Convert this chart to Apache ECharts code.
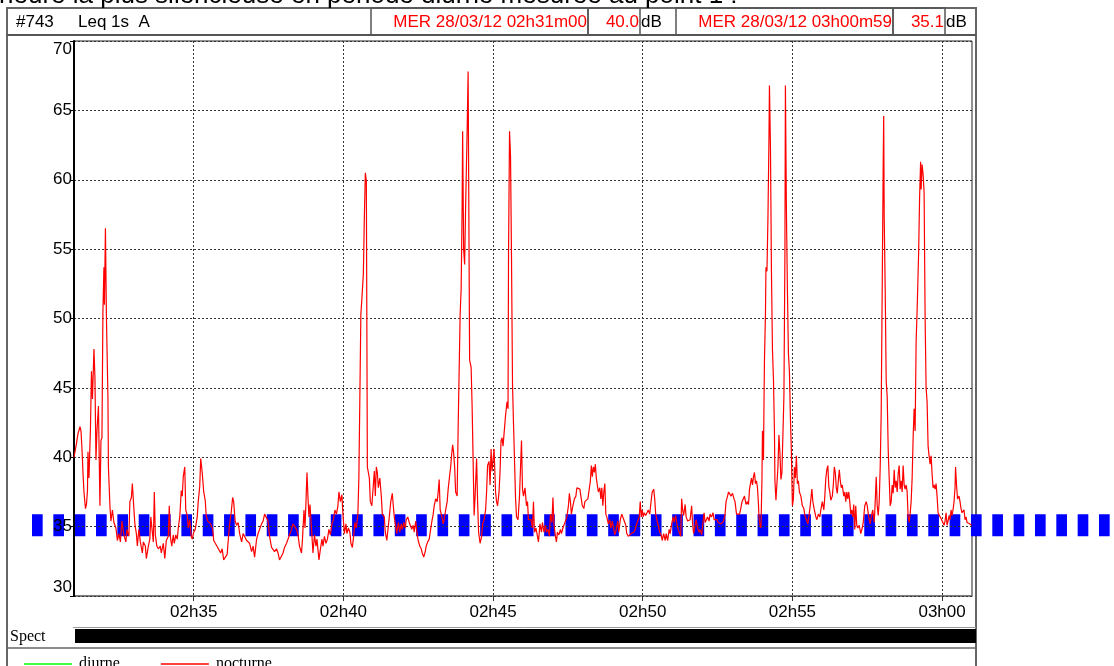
<!DOCTYPE html>
<html>
<head>
<meta charset="utf-8">
<script src="https://cdn.jsdelivr.net/npm/echarts@6/dist/echarts.min.js"></script>
<style>
  html, body { margin: 0; padding: 0; background: #fff; }
  #chart { width: 1114px; height: 666px; }
</style>
</head>
<body>
<div id="chart"></div>
<script>
// Leq 1s (dB A), seconds counted from 02h31m00
const trace0231 = [[0,40.0],[5,41.0],[8,41.7],[12,42.2],[14,41.9],[16,40.6],[18,38.9],[20,37.5],[23,36.3],[25,36.6],[27,37.6],[28,40.4],[30,38.5],[33,42.1],[35,46.2],[37,44.2],[40,47.8],[42,45.7],[44,39.8],[46,41.9],[49,43.7],[52,36.5],[54,41.2],[56,41.4],[58,50.6],[60,53.7],[61,51.0],[63,56.5],[65,50.1],[68,44.4],[69,39.3],[72,36.5],[74,35.4],[77,36.2],[80,35.3],[84,34.9],[87,34.0],[90,34.5],[93,33.9],[96,35.4],[100,34.4],[104,33.9],[106,34.8],[110,34.3],[112,36.8],[115,37.1],[117,38.1],[120,36.3],[122,35.2],[125,34.5],[127,33.6],[130,34.8],[133,33.9],[137,33.1],[139,33.9],[143,33.6],[145,32.7],[149,33.6],[152,34.1],[154,35.7],[157,34.6],[159,33.9],[161,37.5],[163,34.4],[166,33.6],[169,33.4],[173,33.6],[175,33.1],[179,33.8],[182,32.7],[185,34.0],[189,34.3],[191,36.5],[193,34.3],[196,33.6],[199,34.4],[201,33.8],[204,34.4],[207,34.1],[209,34.9],[212,35.7],[215,37.6],[217,37.2],[219,38.6],[222,39.3],[224,36.2],[227,35.8],[229,34.9],[232,35.5],[235,34.3],[237,34.1],[240,34.6],[243,34.8],[247,35.7],[249,36.8],[252,37.9],[254,39.9],[257,38.9],[260,37.5],[263,36.9],[265,35.8],[268,35.4],[271,35.5],[274,35.2],[278,34.8],[280,34.0],[284,34.0],[288,33.5],[291,33.6],[294,33.1],[297,33.4],[300,32.6],[304,32.5],[307,33.0],[310,34.4],[312,35.2],[315,36.0],[318,37.1],[320,36.8],[323,35.4],[326,35.1],[329,35.3],[332,34.5],[336,33.9],[339,34.5],[342,34.5],[346,34.0],[349,33.9],[352,33.8],[356,33.2],[359,33.6],[362,32.8],[366,34.1],[369,34.5],[372,34.6],[376,35.2],[379,35.4],[382,35.9],[386,35.9],[389,35.4],[392,34.3],[396,33.5],[399,33.6],[402,33.2],[406,33.4],[409,33.1],[412,32.6],[416,32.7],[419,33.1],[422,33.5],[426,33.8],[429,34.1],[432,34.4],[436,34.8],[439,35.2],[442,35.1],[446,34.8],[449,34.4],[452,33.6]];
const trace0238 = [[456,33.1],[458,34.1],[461,36.2],[463,34.9],[465,36.8],[467,38.9],[469,37.1],[471,35.7],[473,36.6],[476,34.9],[479,33.1],[482,34.4],[485,33.6],[487,34.1],[491,32.6],[494,33.4],[497,34.1],[499,33.6],[502,34.3],[505,33.8],[508,34.1],[511,34.8],[514,34.4],[517,35.2],[520,35.5],[523,36.2],[526,35.9],[529,36.5],[531,37.5],[534,36.8],[537,37.3],[539,35.9],[542,34.5],[545,35.2],[547,34.5],[550,34.9],[553,34.6],[555,33.8],[558,33.5],[561,34.5],[563,35.3],[566,34.9],[569,35.9],[571,38.5],[573,44.4],[575,50.3],[577,51.4],[580,53.2],[582,57.3],[584,60.5],[586,59.9],[587,49.6],[588,39.3],[590,38.9],[592,38.5],[594,36.8],[597,36.5],[600,38.0],[602,39.0],[604,37.2],[606,39.3],[608,38.9],[610,37.8],[613,38.5],[616,37.2],[618,35.9],[622,35.7],[624,34.6],[627,34.0],[630,34.1],[632,35.7],[635,36.8],[638,37.4],[640,36.5],[642,35.7],[644,35.2],[647,34.5],[650,35.3],[653,34.6],[656,35.2],[658,34.8],[661,35.3],[664,34.9],[666,35.5],[669,35.7],[672,35.3],[674,35.2],[677,34.8],[680,35.1],[682,34.6],[685,35.4],[688,34.4],[690,34.0],[693,33.6],[696,33.4],[698,33.1],[701,32.8],[704,33.2],[706,33.6],[709,33.9],[712,34.1],[714,34.6],[717,35.3],[720,35.9],[722,36.5],[725,37.0],[728,36.8],[730,37.5],[732,38.4],[734,36.2],[737,35.8],[740,35.2],[742,35.5],[745,36.2],[748,36.8],[750,37.7],[753,38.7],[755,39.3],[757,40.2],[759,40.9],[761,40.3],[763,39.3],[765,37.5],[768,37.2],[770,42.1],[772,46.2],[774,50.3],[776,52.1],[778,58.1],[779,63.5],[781,55.0],[783,53.9],[785,58.1],[788,63.5],[790,67.8],[792,67.7],[793,47.0],[796,46.5],[798,43.7],[800,39.8],[802,35.8],[804,37.2],[807,39.9],[809,36.8],[811,34.6],[814,33.8],[817,34.3],[819,35.2],[822,35.5],[825,36.2],[827,37.5],[829,39.4],[832,39.7],[834,38.0],[836,40.6],[838,39.0],[840,39.8],[842,40.6],[845,37.5],[847,36.8],[849,36.5],[852,37.5],[854,39.0],[856,41.2],[858,41.4],[860,40.8],[863,40.9],[865,43.0],[868,44.0],[870,43.5],[871,54.7],[873,63.5],[875,61.7],[877,54.2],[879,45.2],[881,42.4],[883,39.8],[885,37.1],[887,35.7],[890,35.5],[893,37.2]];
const trace0246 = [[897,41.2],[899,37.7],[901,37.2],[904,37.8],[907,36.5],[909,36.8],[911,35.5],[913,35.4],[916,35.5],[919,34.9],[921,36.8],[923,34.6],[926,34.9],[929,34.3],[931,33.9],[934,35.2],[937,34.6],[939,35.3],[942,34.6],[945,35.1],[947,34.6],[950,34.8],[953,34.3],[955,35.9],[958,35.3],[960,37.1],[962,35.2],[965,34.3],[967,33.9],[969,34.6],[972,34.4],[975,34.8],[977,34.5],[980,34.9],[983,35.2],[985,35.1],[988,35.7],[991,36.5],[993,37.4],[995,36.8],[997,35.9],[1000,36.5],[1003,37.0],[1006,37.2],[1008,37.8],[1011,37.9],[1014,37.7],[1016,37.2],[1019,36.5],[1022,36.3],[1024,36.8],[1027,36.9],[1030,37.0],[1032,37.5],[1035,38.3],[1037,39.4],[1039,38.6],[1041,39.3],[1043,38.9],[1045,39.5],[1047,38.5],[1049,38.0],[1051,37.5],[1054,37.8],[1056,37.0],[1058,37.8],[1060,36.5],[1062,37.5],[1064,38.1],[1066,35.9],[1068,35.7],[1071,35.2],[1074,35.5],[1076,34.9],[1079,35.4],[1082,34.8],[1084,34.4],[1087,34.8],[1090,35.4],[1092,34.6],[1095,35.5],[1098,35.9],[1100,36.0],[1103,35.4],[1106,35.1],[1108,34.5],[1111,34.3],[1114,34.4],[1117,34.5],[1119,34.4],[1122,34.6],[1125,34.8],[1127,35.1],[1130,35.4],[1133,35.7],[1135,36.8],[1137,35.7],[1139,36.2],[1141,35.7],[1143,36.0],[1146,35.8],[1149,35.7],[1151,36.2],[1154,35.9],[1157,36.9],[1159,37.5],[1162,37.7],[1164,37.0],[1166,35.9],[1169,35.4],[1171,35.1],[1174,34.6],[1177,34.4],[1179,34.0],[1182,34.5],[1185,34.0],[1187,34.5],[1190,34.0],[1193,34.8],[1195,34.5],[1198,35.2],[1201,35.7],[1203,35.3],[1206,35.8],[1209,35.1],[1211,34.8],[1214,34.5],[1216,34.3],[1218,37.0],[1220,36.2],[1222,35.8],[1225,36.6],[1227,35.7],[1230,35.4],[1233,35.5],[1235,35.5],[1238,36.5],[1240,35.2],[1242,34.5],[1245,35.1],[1247,35.5],[1250,34.9],[1253,34.6],[1255,34.8],[1258,34.4],[1261,35.4],[1263,36.0],[1265,35.3],[1267,35.2],[1270,35.7],[1273,35.4],[1275,35.9],[1278,35.7],[1281,36.0],[1283,35.5],[1286,35.4],[1289,35.5],[1291,35.3],[1294,35.4],[1297,35.2],[1299,35.3],[1302,35.4],[1305,35.9],[1307,36.8],[1310,37.2],[1312,37.5],[1315,37.4],[1317,37.2],[1320,37.4],[1323,37.0],[1325,36.8],[1328,35.9],[1331,35.8],[1334,35.9],[1336,36.2],[1339,36.8],[1342,36.9],[1344,37.2]];
const trace0253 = [[1347,36.6],[1350,36.8],[1352,36.6],[1354,37.7],[1356,37.8],[1358,38.5],[1360,38.0],[1362,38.6],[1364,38.9],[1366,38.1],[1368,38.3],[1370,37.8],[1372,36.6],[1373,35.7],[1375,35.1],[1377,34.9],[1379,38.5],[1380,41.9],[1382,39.8],[1383,43.7],[1384,47.0],[1386,50.3],[1387,53.7],[1389,53.4],[1391,57.3],[1393,62.9],[1394,66.8],[1396,62.4],[1398,53.4],[1400,47.8],[1402,45.7],[1404,41.9],[1405,38.3],[1407,36.9],[1409,36.8],[1411,39.3],[1413,41.6],[1415,40.3],[1417,38.4],[1419,38.9],[1421,39.0],[1423,44.4],[1425,54.7],[1426,66.8],[1428,57.8],[1430,52.1],[1432,47.5],[1434,46.2],[1436,42.9],[1438,40.3],[1440,36.5],[1442,37.0],[1444,39.3],[1446,38.5],[1448,40.1],[1450,38.1],[1452,38.3],[1454,37.5],[1457,37.2],[1460,36.5],[1463,36.3],[1465,35.8],[1468,35.9],[1471,35.2],[1473,35.7],[1476,36.6],[1479,37.7],[1481,36.8],[1484,36.2],[1487,35.7],[1489,35.5],[1492,35.9],[1495,35.7],[1497,36.2],[1500,36.8],[1503,36.2],[1505,37.2],[1507,38.5],[1509,39.1],[1511,39.4],[1513,37.9],[1515,37.5],[1517,36.9],[1520,37.2],[1522,38.0],[1524,39.3],[1526,38.9],[1528,37.8],[1530,37.4],[1532,38.3],[1534,39.1],[1536,38.3],[1538,37.8],[1540,38.0],[1543,37.2],[1545,37.5],[1547,36.8],[1549,37.5],[1551,37.0],[1553,37.5],[1555,36.8],[1557,35.9],[1559,36.2],[1561,35.7],[1563,36.6],[1565,34.8],[1567,36.5],[1569,35.1],[1571,34.9],[1574,35.1],[1577,34.5],[1580,34.9],[1582,35.3],[1585,36.5],[1588,36.8],[1590,36.5],[1593,35.7],[1596,35.2],[1598,35.7],[1601,36.2],[1604,35.3],[1606,36.8],[1608,38.6],[1610,36.5],[1612,35.8],[1614,36.8],[1616,39.3],[1618,43.2],[1620,52.1],[1622,61.1],[1623,64.6],[1624,57.3],[1626,52.1],[1628,45.5],[1630,44.4],[1632,40.6],[1634,38.5],[1636,36.5],[1638,36.8],[1640,38.0],[1642,37.4],[1644,39.1],[1646,37.8],[1648,38.3],[1650,37.5],[1652,38.8],[1654,39.4],[1656,37.7],[1658,38.3],[1660,37.5],[1662,39.4],[1664,38.0],[1666,37.7],[1668,38.0],[1670,37.5],[1672,35.7],[1674,35.3],[1676,35.9],[1678,36.8],[1680,38.5],[1682,41.4],[1684,43.5],[1686,41.9],[1688,48.3],[1690,50.6],[1693,54.7],[1695,58.8],[1697,61.3],[1698,59.3],[1700,61.1],[1702,60.4],[1704,59.1],[1706,50.1],[1708,45.0],[1710,44.0],[1712,40.8],[1714,40.1],[1716,39.5],[1718,40.1],[1720,38.8],[1722,37.8],[1724,38.0],[1726,37.7],[1728,38.1],[1730,37.2],[1732,36.0],[1734,35.9],[1736,35.9],[1739,35.5],[1742,35.4],[1744,35.1],[1746,35.4],[1748,36.0],[1750,35.1],[1752,35.4],[1754,35.8],[1756,35.5],[1758,36.2],[1760,35.8],[1762,36.2],[1764,36.8],[1766,37.8],[1767,39.3],[1769,38.0],[1771,37.0],[1774,37.2],[1776,36.8],[1778,36.3],[1780,36.0],[1782,35.9],[1784,36.2],[1786,35.5],[1788,35.7],[1790,35.3],[1793,35.2],[1795,35.2],[1797,35.1],[1799,35.1]];

const tickSecs = [240, 540, 840, 1140, 1440, 1740];
const refLevel = 35.1;          // trait bleu
const spectSpans = [[0, 1800]];  // bande "Spect"
const legendNames = ['diurne', 'nocturne'];

const nocturne = trace0231.concat(trace0238, trace0246, trace0253);

function hhmm(sec) {
  const m = 151 + Math.round(sec / 60);
  const h = Math.floor(m / 60), mm = m % 60;
  return (h < 10 ? '0' : '') + h + 'h' + (mm < 10 ? '0' : '') + mm;
}

const SANS = 'Liberation Sans, Arial, sans-serif';
const SERIF = 'Liberation Serif, Times New Roman, serif';

var myChart = echarts.init(document.getElementById('chart'), null, { renderer: 'canvas' });

var option = {
  animation: false,
  backgroundColor: '#fff',
  grid: [
    { left: 74, right: 142, top: 41, bottom: 70, show: true, borderColor: '#222', borderWidth: 1, outerBoundsMode: 'none' },
    { left: 32, right: 0, top: 41, bottom: 70, outerBoundsMode: 'none' },
    { left: 75, right: 138, top: 629, height: 14, outerBoundsMode: 'none' }
  ],
  legend: {
    data: legendNames,
    left: 19, top: 651,
    icon: 'rect',
    itemWidth: 48, itemHeight: 1.5,
    itemGap: 41,
    textStyle: { fontFamily: SERIF, fontSize: 16, color: '#000', padding: [0, 0, 0, 2] }
  },
  xAxis: [
    {
      type: 'value', gridIndex: 0, min: 0, max: 1800,
      axisLine: { show: true, lineStyle: { color: '#777', width: 1.5 } },
      axisTick: { show: true, customValues: tickSecs, length: 5, lineStyle: { color: '#333' } },
      axisLabel: { customValues: tickSecs, formatter: v => hhmm(v), fontFamily: SANS, fontSize: 17, color: '#000', margin: 8 },
      splitLine: { show: true, lineStyle: { color: '#333', type: [2, 2], width: 1 } }
    },
    { type: 'value', gridIndex: 1, min: 0, max: 1, show: false },
    { type: 'value', gridIndex: 2, min: 0, max: 1800, show: false }
  ],
  yAxis: [
    {
      type: 'value', gridIndex: 0, min: 30, max: 70, interval: 5, z: 5,
      axisLine: { show: true, lineStyle: { color: '#000', width: 2 } },
      axisTick: { show: true, length: 4, lineStyle: { color: '#000' } },
      axisLabel: {
        fontFamily: SANS, fontSize: 17, color: '#000', margin: 2,
        verticalAlignMaxLabel: 'top', verticalAlignMinLabel: 'bottom'
      },
      splitLine: { show: true, lineStyle: { color: '#333', type: [2, 2], width: 1 } }
    },
    { type: 'value', gridIndex: 1, min: 30, max: 70, show: false },
    { type: 'value', gridIndex: 2, min: 0, max: 1, show: false }
  ],
  series: [
    {
      name: 'diurne', type: 'line', data: [],
      xAxisIndex: 0, yAxisIndex: 0,
      itemStyle: { color: '#00ff00' }, lineStyle: { color: '#00ff00' }
    },
    {
      name: 'nocturne', type: 'line', data: nocturne,
      xAxisIndex: 0, yAxisIndex: 0,
      showSymbol: false, symbol: 'none', z: 6,
      itemStyle: { color: '#ff0000' },
      lineStyle: { color: '#ff0000', width: 1.2 }
    },
    {
      type: 'line', xAxisIndex: 1, yAxisIndex: 1, z: 2,
      data: [[0, refLevel], [1, refLevel]],
      showSymbol: false, symbol: 'none', silent: true,
      lineStyle: { color: '#0000ff', width: 22, type: [10.67, 10.67], cap: 'butt' }
    },
    {
      type: 'line', xAxisIndex: 2, yAxisIndex: 2, data: [], silent: true,
      markArea: {
        silent: true,
        itemStyle: { color: '#000', opacity: 1 },
        data: spectSpans.map(s => [{ xAxis: s[0], yAxis: 0 }, { xAxis: s[1], yAxis: 1 }])
      }
    }
  ],
  graphic: [
    // titre coupé en haut
    { type: 'text', left: -1, top: -17, z: 10,
      style: { text: 'heure la plus silencieuse en période diurne mesurée au point 1 :', font: '26px ' + SANS, fill: '#000' } },
    // cadre extérieur
    { type: 'rect', z: 1, shape: { x: 7, y: 8, width: 969, height: 680 }, style: { fill: 'none', stroke: '#666', lineWidth: 2 } },
    { type: 'line', z: 1, shape: { x1: 7, y1: 35, x2: 976, y2: 35 }, style: { stroke: '#555', lineWidth: 2 } },
    // en-tête
    { type: 'rect', z: 1, shape: { x: 371, y: 8, width: 217, height: 27 }, style: { fill: 'none', stroke: '#555', lineWidth: 1.5 } },
    { type: 'rect', z: 1, shape: { x: 588, y: 8, width: 52, height: 27 }, style: { fill: 'none', stroke: '#555', lineWidth: 1.5 } },
    { type: 'rect', z: 1, shape: { x: 676, y: 8, width: 217, height: 27 }, style: { fill: 'none', stroke: '#555', lineWidth: 1.5 } },
    { type: 'rect', z: 1, shape: { x: 893, y: 8, width: 52, height: 27 }, style: { fill: 'none', stroke: '#555', lineWidth: 1.5 } },
    { type: 'text', x: 16, y: 22, z: 10, style: { text: '#743', font: '17px ' + SANS, fill: '#000', verticalAlign: 'middle' } },
    { type: 'text', x: 78, y: 22, z: 10, style: { text: 'Leq 1s  A', font: '17px ' + SANS, fill: '#000', verticalAlign: 'middle' } },
    { type: 'text', x: 587, y: 22, z: 10, style: { text: 'MER 28/03/12 02h31m00', font: '17px ' + SANS, fill: '#ff0000', align: 'right', verticalAlign: 'middle' } },
    { type: 'text', x: 639, y: 22, z: 10, style: { text: '40.0', font: '17px ' + SANS, fill: '#ff0000', align: 'right', verticalAlign: 'middle' } },
    { type: 'text', x: 641, y: 22, z: 10, style: { text: 'dB', font: '17px ' + SANS, fill: '#000', verticalAlign: 'middle' } },
    { type: 'text', x: 892, y: 22, z: 10, style: { text: 'MER 28/03/12 03h00m59', font: '17px ' + SANS, fill: '#ff0000', align: 'right', verticalAlign: 'middle' } },
    { type: 'text', x: 944, y: 22, z: 10, style: { text: '35.1', font: '17px ' + SANS, fill: '#ff0000', align: 'right', verticalAlign: 'middle' } },
    { type: 'text', x: 946, y: 22, z: 10, style: { text: 'dB', font: '17px ' + SANS, fill: '#000', verticalAlign: 'middle' } },
    // bas : Spect + séparateur légende
    { type: 'line', z: 1, shape: { x1: 73, y1: 627.5, x2: 976, y2: 627.5 }, style: { stroke: '#999', lineWidth: 1 } },
    { type: 'text', x: 10, y: 637, z: 10, style: { text: 'Spect', font: '16px ' + SERIF, fill: '#000', verticalAlign: 'middle' } },
    { type: 'line', z: 1, shape: { x1: 7, y1: 648, x2: 976, y2: 648 }, style: { stroke: '#666', lineWidth: 1.5 } }
  ]
};

myChart.setOption(option);
</script>
</body>
</html>
